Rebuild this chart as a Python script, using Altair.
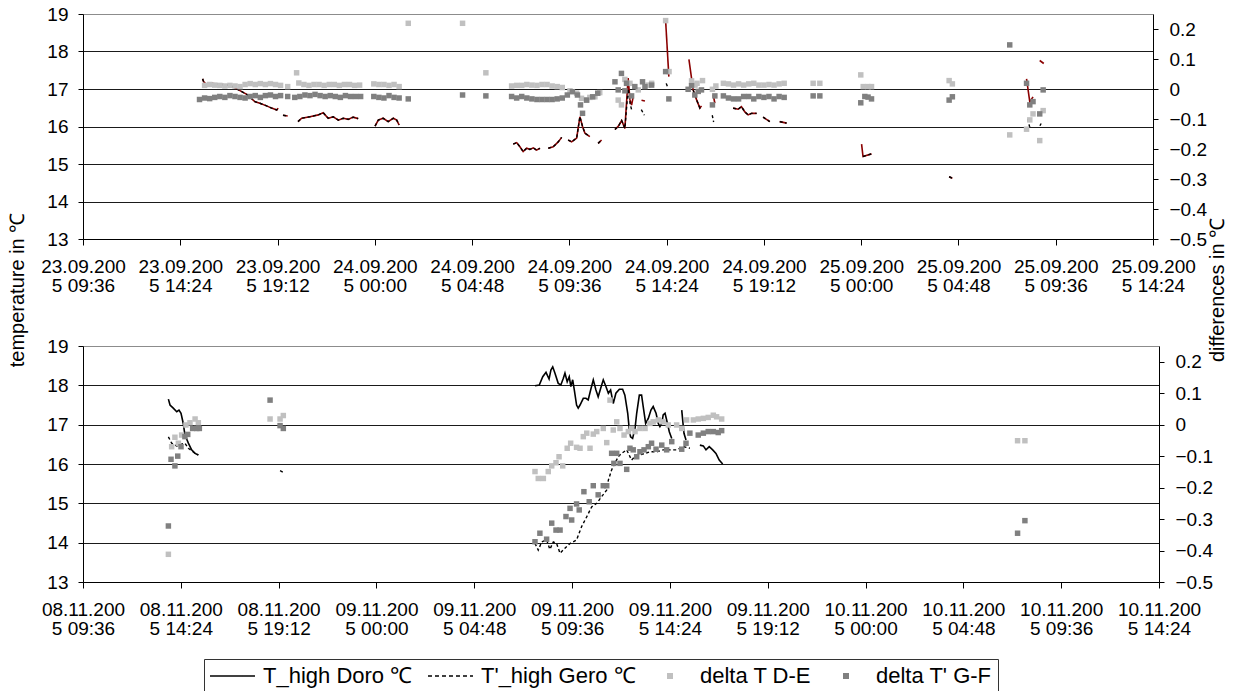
import altair as alt
import pandas as pd

# Time axis: hours after 09:36 on the first day of each measuring run
TICK_HOURS = [0, 4.8, 9.6, 14.4, 19.2, 24.0, 28.8, 33.6, 38.4, 43.2, 48.0, 52.8]
TOP_TICK_LABELS = ["23.09.2005 09:36", "23.09.2005 14:24", "23.09.2005 19:12", "24.09.2005 00:00",
                   "24.09.2005 04:48", "24.09.2005 09:36", "24.09.2005 14:24", "24.09.2005 19:12",
                   "25.09.2005 00:00", "25.09.2005 04:48", "25.09.2005 09:36", "25.09.2005 14:24"]
BOTTOM_TICK_LABELS = ["08.11.2005 09:36", "08.11.2005 14:24", "08.11.2005 19:12", "09.11.2005 00:00",
                      "09.11.2005 04:48", "09.11.2005 09:36", "09.11.2005 14:24", "09.11.2005 19:12",
                      "10.11.2005 00:00", "10.11.2005 04:48", "10.11.2005 09:36", "10.11.2005 14:24"]
TEMP_TICKS = [13, 14, 15, 16, 17, 18, 19]
DIFF_TICKS = [-0.5, -0.4, -0.3, -0.2, -0.1, 0, 0.1, 0.2]

SERIES = ["T_high Doro ℃", "T'_high Gero ℃", "delta T D-E", "delta T' G-F"]

# ---- September run -------------------------------------------------------
# line pieces as (hours, temperature °C)
TOP_DORO = [
    ([5.9, 5.95, 6.1, 6.35, 6.6, 7.25, 7.7, 8.1, 8.49, 8.73, 9.06, 9.31, 9.56, 9.63],
     [17.27, 17.2, 17.11, 17.15, 17.13, 17.1, 16.97, 16.85, 16.66, 16.62, 16.55, 16.49, 16.44, 16.49]),
    ([9.87, 10.1], [16.3, 16.28]),
    ([10.61, 10.79, 11.2, 11.61, 11.85, 12.1, 12.35, 12.6, 12.84, 13.09, 13.33, 13.58],
     [16.13, 16.22, 16.26, 16.31, 16.37, 16.22, 16.26, 16.17, 16.22, 16.19, 16.25, 16.21]),
    ([14.41, 14.57, 14.81, 15.06, 15.31, 15.48, 15.6], [16.01, 16.17, 16.22, 16.13, 16.22, 16.17, 16.04]),
    ([21.23, 21.4, 21.56, 21.72, 21.89, 22.05, 22.22, 22.38, 22.55],
     [15.53, 15.57, 15.46, 15.33, 15.42, 15.39, 15.43, 15.37, 15.42]),
    ([22.96, 23.2, 23.45, 23.62], [15.42, 15.46, 15.59, 15.71]),
    ([23.94, 24.11, 24.36, 24.52, 24.65, 24.77, 25.01], [15.64, 15.59, 15.69, 16.26, 16.0, 15.82, 15.73]),
    ([25.42, 25.59], [15.55, 15.64]),
    ([26.25, 26.42, 26.58, 26.74, 26.9, 26.99, 27.07, 27.15], [15.92, 16.01, 16.16, 15.95, 17.29, 16.71, 16.57, 16.79]),
    ([27.56, 27.73], [16.7, 16.68]),
    ([28.75, 28.91], [18.82, 17.33]),
    ([29.9, 30.11, 30.28, 30.44, 30.52], [17.79, 16.97, 16.71, 16.49, 16.55]),
    ([31.1, 31.18], [16.84, 16.62]),
    ([32.08, 32.33, 32.49, 32.66, 32.82, 32.99, 33.24], [16.49, 16.46, 16.53, 16.39, 16.31, 16.35, 16.35]),
    ([33.56, 33.89], [16.25, 16.13]),
    ([34.38, 34.72], [16.13, 16.09]),
    ([38.42, 38.49, 38.91], [15.53, 15.2, 15.27]),
    ([42.74, 42.9], [14.66, 14.62]),
    ([46.56, 46.72, 46.88], [17.27, 16.66, 16.79]),
    ([47.21, 47.41], [17.76, 17.68]),
]
TOP_GERO = [
    ([5.9, 5.95, 6.1, 6.35, 6.6, 7.25, 7.7, 8.1, 8.49, 8.73, 9.06, 9.31, 9.56, 9.63],
     [17.27, 17.2, 17.11, 17.15, 17.13, 17.1, 16.97, 16.85, 16.66, 16.62, 16.55, 16.49, 16.44, 16.49]),
    ([9.87, 10.1], [16.3, 16.28]),
    ([10.61, 10.79, 11.2, 11.61, 11.85, 12.1, 12.35, 12.6, 12.84, 13.09, 13.33, 13.58],
     [16.13, 16.22, 16.26, 16.31, 16.37, 16.22, 16.26, 16.17, 16.22, 16.19, 16.25, 16.21]),
    ([14.41, 14.57, 14.81, 15.06, 15.31, 15.48, 15.6], [16.01, 16.17, 16.22, 16.13, 16.22, 16.17, 16.04]),
    ([21.23, 21.4, 21.56, 21.72, 21.89, 22.05, 22.22, 22.38, 22.55],
     [15.53, 15.57, 15.46, 15.33, 15.42, 15.39, 15.43, 15.37, 15.42]),
    ([22.96, 23.2, 23.45, 23.62], [15.42, 15.46, 15.59, 15.71]),
    ([23.94, 24.11, 24.36, 24.52, 24.65, 24.77, 25.01], [15.64, 15.59, 15.69, 16.26, 16.0, 15.82, 15.73]),
    ([25.42, 25.59], [15.55, 15.64]),
    ([26.25, 26.42, 26.58, 26.74, 26.9, 27.0, 27.07], [15.92, 16.01, 16.16, 15.95, 17.0, 16.6, 16.45]),
    ([27.55, 27.7], [16.45, 16.3]),
    ([28.78, 28.85], [17.15, 17.05]),
    ([30.11, 30.28, 30.44, 30.52], [16.97, 16.71, 16.49, 16.55]),
    ([31.05, 31.12], [16.3, 16.12]),
    ([32.08, 32.33, 32.49, 32.66, 32.82, 32.99, 33.24], [16.49, 16.46, 16.53, 16.39, 16.31, 16.35, 16.35]),
    ([33.56, 33.89], [16.25, 16.13]),
    ([34.38, 34.72], [16.13, 16.09]),
    ([38.49, 38.91], [15.2, 15.27]),
    ([42.74, 42.9], [14.66, 14.62]),
    ([46.62, 46.72], [16.2, 15.97]),
    ([47.22, 47.28], [16.02, 16.08]),
]
# differences (°C) on the secondary axis
TOP_DE_HOURS = [6.0, 6.25, 6.5, 6.75, 7.0, 7.25, 7.5, 7.75, 8.0, 8.25, 8.5, 8.75, 9.0, 9.25, 9.5, 9.75, 10.1,
                10.54, 10.65, 10.9, 11.15, 11.4, 11.65, 11.9, 12.15, 12.4, 12.65, 12.9, 13.15, 13.4, 13.65,
                14.35, 14.6, 14.85, 15.1, 15.35, 15.6, 16.05, 18.73, 19.88,
                21.15, 21.4, 21.65, 21.9, 22.15, 22.4, 22.65, 22.9, 23.15, 23.4, 23.65,
                24.03, 24.36, 24.6, 24.85, 25.01, 25.26, 25.5,
                26.41, 26.57, 26.74, 26.99, 27.4, 27.89, 28.06, 28.75, 28.92,
                30.03, 30.2, 30.3, 30.57, 31.06, 31.23,
                31.6, 31.85, 32.1, 32.35, 32.6, 32.85, 33.1, 33.35, 33.6, 33.85, 34.1, 34.35, 34.6,
                36.03, 36.36, 38.38, 38.5, 38.74, 38.91, 42.74, 42.9,
                45.73, 46.56, 46.72, 46.88, 47.21, 47.38]
TOP_DE_VALUES = [0.012, 0.015, 0.013, 0.012, 0.010, 0.012, 0.010, 0.008, 0.015, 0.018, 0.015, 0.018, 0.015, 0.018, 0.015, 0.012, 0.008,
                 0.054, 0.02, 0.015, 0.012, 0.015, 0.015, 0.012, 0.015, 0.015, 0.012, 0.015, 0.015, 0.012, 0.013,
                 0.017, 0.015, 0.015, 0.012, 0.015, 0.008, 0.219, 0.219, 0.054,
                 0.01, 0.012, 0.012, 0.015, 0.013, 0.012, 0.015, 0.015, 0.01, 0.008, 0.005,
                 -0.006, -0.014, -0.031, -0.037, -0.028, -0.026, -0.012,
                 -0.037, -0.053, 0.032, 0.019, -0.003, 0.013, 0.019, 0.228, 0.058,
                 0.027, 0.013, 0.019, 0.028, -0.001, 0.01,
                 0.019, 0.017, 0.013, 0.017, 0.013, 0.017, 0.019, 0.013, 0.013, 0.015, 0.013, 0.017, 0.019,
                 0.019, 0.019, 0.047, 0.008, 0.008, 0.008, 0.028, 0.017,
                 -0.153, -0.134, -0.103, -0.083, -0.172, -0.072]
TOP_GF_HOURS = [5.75, 6.0, 6.25, 6.5, 6.75, 7.0, 7.25, 7.5, 7.75, 8.0, 8.25, 8.5, 8.75, 9.0, 9.25, 9.5, 9.75, 10.1,
                10.45, 10.7, 10.95, 11.2, 11.45, 11.7, 11.95, 12.2, 12.45, 12.7, 12.95, 13.2, 13.45, 13.7,
                14.35, 14.6, 14.85, 15.1, 15.35, 15.6, 16.05, 18.73, 19.88,
                21.15, 21.4, 21.65, 21.9, 22.15, 22.4, 22.65, 22.9, 23.15, 23.4, 23.65,
                23.9, 24.15, 24.4, 24.55, 24.65, 24.85, 25.15, 25.4,
                26.25, 26.41, 26.57, 26.74, 26.82, 27.07, 27.23, 27.61, 27.73, 28.06, 28.75, 28.91,
                29.86, 30.03, 30.19, 30.36, 30.52, 31.06, 31.18,
                31.6, 31.85, 32.1, 32.35, 32.6, 32.85, 33.1, 33.35, 33.6, 33.85, 34.1, 34.35, 34.6,
                36.03, 36.36, 38.38, 38.58, 38.74, 38.91, 42.74, 42.9,
                45.73, 46.56, 46.72, 46.88, 47.21, 47.38]
TOP_GF_VALUES = [-0.035, -0.03, -0.032, -0.028, -0.025, -0.028, -0.022, -0.025, -0.028, -0.03, -0.025, -0.022, -0.028, -0.022, -0.02, -0.025, -0.022, -0.025,
                 -0.028, -0.025, -0.02, -0.022, -0.018, -0.022, -0.025, -0.022, -0.025, -0.028, -0.022, -0.025, -0.025, -0.025,
                 -0.025, -0.028, -0.03, -0.022, -0.028, -0.03, -0.033, -0.02, -0.023,
                 -0.025, -0.03, -0.025, -0.03, -0.033, -0.035, -0.035, -0.035, -0.035, -0.033, -0.03,
                 -0.02, -0.009, -0.02, -0.053, -0.081, -0.037, -0.026, -0.014,
                 0.024, -0.003, 0.052, -0.006, 0.019, -0.023, 0.008, 0.024, 0.008, 0.013, 0.058, -0.033,
                 -0.001, 0.011, -0.02, -0.008, -0.003, -0.053, -0.023,
                 -0.023, -0.03, -0.033, -0.033, -0.025, -0.025, -0.033, -0.025, -0.028, -0.025, -0.033, -0.025, -0.028,
                 -0.023, -0.023, -0.046, -0.025, -0.027, -0.033, -0.037, -0.026,
                 0.147, 0.019, -0.053, -0.042, -0.083, -0.003]

# ---- November run --------------------------------------------------------
BOTTOM_DORO = [
    ([4.19, 4.27, 4.43, 4.6, 4.71, 4.81, 4.92, 5.0, 5.17, 5.33, 5.5, 5.66],
     [17.65, 17.5, 17.42, 17.33, 17.37, 17.29, 17.03, 16.74, 16.53, 16.36, 16.27, 16.23]),
    ([22.18, 22.39, 22.56, 22.72, 22.87, 22.96, 23.05, 23.16, 23.32, 23.45, 23.57, 23.65, 23.76, 23.86, 23.94,
      24.03, 24.11, 24.22, 24.3, 24.39, 24.55, 24.68, 24.79, 24.91, 25.04, 25.17, 25.28, 25.4, 25.53, 25.66,
      25.78, 25.89, 26.02, 26.15, 26.32, 26.48, 26.59, 26.73, 26.81, 26.87, 26.97, 27.09, 27.17, 27.3, 27.41,
      27.49, 27.61, 27.74, 27.87, 27.98, 28.12, 28.23, 28.31, 28.4, 28.47, 28.56, 28.64, 28.77, 28.89],
     [17.99, 18.01, 18.22, 18.33, 18.16, 18.39, 18.47, 18.31, 18.05, 18.01, 18.18, 18.31, 18.09, 18.22, 17.97,
      18.14, 17.88, 17.5, 17.42, 17.5, 17.67, 17.67, 17.63, 17.88, 18.14, 17.88, 17.71, 17.92, 18.14, 17.97,
      17.8, 17.88, 17.54, 17.8, 17.9, 17.9, 17.75, 17.29, 16.86, 16.69, 16.65, 16.91, 17.29, 17.75, 17.75,
      17.46, 17.03, 17.16, 17.37, 17.46, 17.29, 17.03, 16.95, 17.03, 17.25, 17.29, 17.12, 16.82, 16.65]),
    ([29.38, 29.49, 29.59], [17.37, 16.78, 16.61]),
    ([30.27, 30.44, 30.57, 30.73, 30.9, 31.06, 31.22, 31.39], [16.48, 16.46, 16.36, 16.44, 16.36, 16.27, 16.1, 16.0]),
]
BOTTOM_GERO = [
    ([4.19, 4.35, 4.6, 5.0, 5.17, 5.5, 5.66], [16.69, 16.53, 16.46, 16.53, 16.4, 16.27, 16.23]),
    ([9.67, 9.86], [15.83, 15.78]),
    ([22.18, 22.34, 22.51, 22.75, 22.91, 23.08, 23.24, 23.41, 23.65, 23.9, 24.22, 24.47, 24.72, 24.96, 25.21,
      25.45, 25.7, 25.78, 25.94, 26.1, 26.27, 26.43, 26.68, 26.92, 27.09, 27.33, 27.58, 27.82, 28.15, 28.47,
      28.8, 29.13, 29.46, 29.78],
     [13.98, 13.81, 14.02, 14.07, 13.83, 14.02, 13.98, 13.73, 13.86, 13.98, 14.07, 14.41, 14.66, 14.91, 15.0,
      15.17, 15.34, 15.59, 15.85, 16.02, 16.19, 16.27, 16.36, 16.1, 16.19, 16.23, 16.27, 16.31, 16.31, 16.36,
      16.36, 16.36, 16.44, 16.4]),
]
BOTTOM_DE_HOURS = [4.19, 4.35, 4.51, 4.68, 4.84, 5.05, 5.25, 5.5, 5.66, 9.18, 9.67, 9.83,
                   22.18, 22.34, 22.59, 22.83, 23.0, 23.21, 23.36, 23.54, 23.76, 23.93, 24.22, 24.39, 24.55,
                   24.72, 24.88, 25.04, 25.21, 25.53, 25.7, 25.86, 26.02, 26.19, 26.35, 26.55, 26.76, 26.92,
                   27.09, 27.33, 27.58, 27.82, 27.98, 28.23, 28.47, 28.72, 29.13, 29.38, 29.62, 29.95, 30.19,
                   30.44, 30.68, 30.93, 31.09, 31.34, 45.86, 46.22]
BOTTOM_DE_VALUES = [-0.412, -0.07, -0.04, -0.059, -0.033, -0.001, 0.006, 0.018, 0.006, 0.018, 0.018, 0.029,
                    -0.149, -0.171, -0.171, -0.149, -0.131, -0.121, -0.102, -0.131, -0.075, -0.059, -0.072, -0.075, -0.038,
                    -0.027, -0.075, -0.03, -0.022, -0.012, -0.057, 0.078, -0.017, 0.009, -0.012, -0.033, -0.022, -0.012,
                    -0.022, -0.012, -0.012, 0.004, 0.009, 0.015, 0.009, -0.001, -0.001, -0.012, 0.015, 0.015, 0.018,
                    0.02, 0.023, 0.03, 0.025, 0.018, -0.051, -0.051]
BOTTOM_GF_HOURS = [4.19, 4.32, 4.51, 4.65, 4.81, 5.0, 5.14, 5.38, 5.58, 5.71, 9.18, 9.67, 9.83,
                   22.18, 22.42, 22.75, 23.0, 23.21, 23.41, 23.7, 23.9, 23.98, 24.22, 24.35, 24.58, 24.84,
                   25.04, 25.28, 25.53, 25.7, 25.94, 26.05, 26.19, 26.35, 26.68, 26.84, 27.0, 27.17, 27.33,
                   27.53, 27.74, 27.9, 28.12, 28.4, 28.64, 28.89, 29.38, 29.59, 29.78, 30.19, 30.44, 30.68,
                   30.93, 31.17, 31.34, 45.86, 46.22]
BOTTOM_GF_VALUES = [-0.322, -0.11, -0.131, -0.1, -0.07, -0.038, -0.031, -0.012, -0.012, -0.012, 0.078, -0.003, -0.012,
                    -0.372, -0.345, -0.364, -0.313, -0.335, -0.335, -0.292, -0.266, -0.303, -0.252, -0.271, -0.213, -0.245,
                    -0.194, -0.223, -0.194, -0.194, -0.091, -0.123, -0.091, -0.123, -0.142, -0.075, -0.08, -0.102, -0.086,
                    -0.08, -0.07, -0.059, -0.078, -0.065, -0.08, -0.054, -0.078, -0.059, -0.027, -0.033, -0.027, -0.022,
                    -0.022, -0.025, -0.019, -0.345, -0.305]

FONT = "Liberation Sans"

# legend keys: a long stroke for the two temperature lines and a small square
# for the two difference series
LINE_KEY = "M-3.67,0H11.33"
SQUARE_KEY = "M3,-1H5V1H3Z"


def pieces(segments):
    rows = []
    for k, (hours, temps) in enumerate(segments):
        for h, t in zip(hours, temps):
            rows.append({"seg": k, "h": h, "t": t})
    return pd.DataFrame(rows)


def x_encoding(labels):
    pairs = ",".join("['%s','%s']" % (lab[:9], lab[9:]) for lab in labels)
    return alt.X(
        "h:Q",
        scale=alt.Scale(domain=[0, 52.8], nice=False, zero=False),
        axis=alt.Axis(values=TICK_HOURS, labelExpr="[%s][round(datum.value / 4.8)]" % pairs,
                      title=None, grid=False, tickSize=6, labelPadding=12, labelLineHeight=19,
                      labelFontSize=19, labelFont=FONT, labelColor="black", labelFlush=False,
                      labelOverlap=False, domainColor="black", tickColor="black"),
    )


temp_y = alt.Y(
    "t:Q",
    scale=alt.Scale(domain=[13, 19], nice=False, zero=False),
    axis=alt.Axis(values=TEMP_TICKS, title=None, grid=True, tickSize=5, labelPadding=10,
                  labelFontSize=19, labelFont=FONT, labelColor="black",
                  gridColor={"condition": {"test": "datum.value === 19", "value": "#8c8c8c"}, "value": "#1a1a1a"},
                  gridWidth=1, domainColor="black", tickColor="black"),
)
diff_y = alt.Y(
    "d:Q",
    scale=alt.Scale(domain=[-0.5, 0.25], nice=False, zero=False),
    axis=alt.Axis(values=DIFF_TICKS, orient="right", title=None, grid=False, tickSize=5, labelPadding=11,
                  labelFontSize=19, labelFont=FONT, labelColor="black", format="~g",
                  domainColor="black", tickColor="black"),
)


def panel(doro, gero, de_h, de_v, gf_h, gf_v, tick_labels, doro_color, width, height, extra=None):
    x = x_encoding(tick_labels)
    layers = [
        alt.Chart(pieces(doro)).mark_line(color=doro_color, strokeWidth=1.6, clip=True)
        .encode(x=x, y=temp_y, detail="seg:N"),
        alt.Chart(pieces(gero)).mark_line(color="black", strokeWidth=1.4, strokeDash=[3, 2.5], clip=True)
        .encode(x=x, y=temp_y, detail="seg:N"),
    ]
    if extra is not None:
        layers += extra(x)
    temps = alt.layer(*layers)
    diffs = alt.layer(
        alt.Chart(pd.DataFrame({"h": de_h, "d": de_v})).mark_square(color="#c0c0c0", size=30, opacity=1)
        .encode(x=x, y=diff_y),
        alt.Chart(pd.DataFrame({"h": gf_h, "d": gf_v})).mark_square(color="#808080", size=30, opacity=1)
        .encode(x=x, y=diff_y),
    )
    return alt.layer(temps, diffs).resolve_scale(y="independent").properties(width=width, height=height)


def axis_titles(x):
    left = alt.Chart(pd.DataFrame({"label": ["temperature in ℃"]})).mark_text(
        angle=270, font=FONT, fontSize=20, color="black", align="center", baseline="middle"
    ).encode(text="label:N", x=alt.value(-65), y=alt.value(276))
    right = alt.Chart(pd.DataFrame({"label": ["differences in ℃"]})).mark_text(
        angle=270, font=FONT, fontSize=20, color="black", align="center", baseline="middle"
    ).encode(text="label:N", x=alt.value(1135), y=alt.value(276))
    return [left, right]


def legend_layer(x):
    leg = alt.Legend(title=None, orient="none", legendX=121, legendY=645, direction="horizontal",
                     labelFont=FONT, labelFontSize=22, labelColor="black", labelOffset=31,
                     columnPadding=11, padding=6, strokeColor="#333333", fillColor="white",
                     symbolSize=36, symbolStrokeWidth=1.5, labelLimit=400)
    dom = SERIES
    keys = pd.DataFrame({"series": SERIES, "h": [-20] * 4, "t": [0] * 4})
    return [
        alt.Chart(keys).mark_point(clip=True, opacity=1).encode(
            x=x, y=temp_y,
            fill=alt.Fill("series:N", scale=alt.Scale(domain=dom, range=["transparent", "transparent", "#c0c0c0", "#808080"]), legend=leg),
            stroke=alt.Stroke("series:N", scale=alt.Scale(domain=dom, range=["black", "black", "transparent", "transparent"]), legend=leg),
            shape=alt.Shape("series:N", scale=alt.Scale(domain=dom, range=[LINE_KEY, LINE_KEY, SQUARE_KEY, SQUARE_KEY]), legend=leg),
            strokeDash=alt.StrokeDash("series:N", scale=alt.Scale(domain=dom, range=[[1, 0], [4, 3], [1, 0], [1, 0]]), legend=leg),
        )
    ]


top = panel(TOP_DORO, TOP_GERO, TOP_DE_HOURS, TOP_DE_VALUES, TOP_GF_HOURS, TOP_GF_VALUES,
            TOP_TICK_LABELS, "#8b0000", 1070, 225, extra=axis_titles)
bottom = panel(BOTTOM_DORO, BOTTOM_GERO, BOTTOM_DE_HOURS, BOTTOM_DE_VALUES, BOTTOM_GF_HOURS, BOTTOM_GF_VALUES,
               BOTTOM_TICK_LABELS, "black", 1076, 236, extra=legend_layer)

chart = alt.vconcat(top, bottom, spacing=107, bounds="flush").properties(
    padding={"left": 7, "top": 4, "right": 5, "bottom": 0}
).configure_view(stroke=None).configure(background="white")

chart.save("out.html", embed_options={"renderer": "svg", "actions": False})
